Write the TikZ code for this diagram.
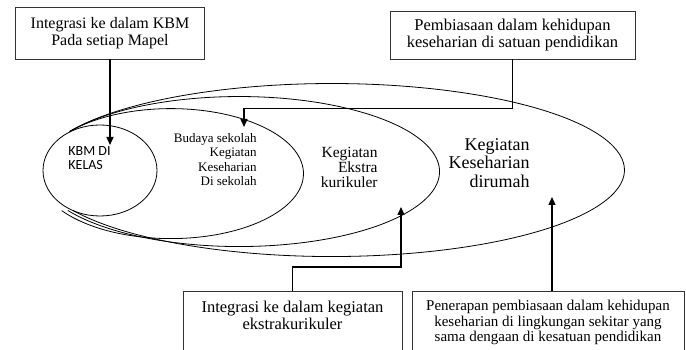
\documentclass[tikz,border=0pt]{standalone}
\usepackage{fontspec}
\setmainfont{Liberation Serif}
\newfontfamily\kalibri{Carlito}
\usetikzlibrary{shapes.geometric,arrows.meta}

\begin{document}
\begin{tikzpicture}[x=1pt, y=1pt, line width=0.8pt,
                    kotak/.style = {draw=black!80, align=center, inner xsep=0pt},
                    teks/.style = {inner sep=0pt},
                    panah/.style = {line width=1.3pt, -{Triangle[length=8pt, width=7pt]}}]
  \useasboundingbox (0,0) rectangle (686,350);
  % lingkaran-lingkaran
  \node [draw, ellipse, minimum width=114pt, minimum height=91pt] (kelas) at (100,179.5){};
  \draw (kelas.128) arc[start angle=139.7, end angle=-145.3, x radius=132.7, y radius=65];
  \draw (kelas.128) arc[start angle=147.8, end angle=-148.7, x radius=200.4, y radius=75];
  \draw (kelas.128) arc[start angle=153.6, end angle=-152.1, x radius=292.7, y radius=86.5];
  % isi
  \node [teks, anchor=north west, align=left, font=\kalibri\fontsize{14}{14}\selectfont] (tekskelas) at (68,204){KBM DI\\KELAS};
  \node [teks, anchor=north east, align=right, font=\fontsize{13}{14.3}\selectfont] (teksbudaya) at (257,217){Budaya sekolah\\Kegiatan\\Keseharian\\Di sekolah};
  \node [teks, anchor=north east, align=right, font=\fontsize{15.5}{15}\selectfont] (teksekstra) at (378,203){Kegiatan\\Ekstra\\kurikuler};
  \node [teks, anchor=north east, align=right, font=\fontsize{18}{18.5}\selectfont] (teksrumah) at (530,212){Kegiatan\\Keseharian\\dirumah};
  % kotak
  \node [kotak, minimum width=189pt, minimum height=52pt, font=\fontsize{16}{16.5}\selectfont] (mapel) at (110,317){Integrasi ke dalam KBM\\Pada setiap Mapel};
  \node [kotak, minimum width=245pt, minimum height=48pt, font=\fontsize{16.5}{16.5}\selectfont] (sekolah) at (512.5,315){Pembiasaan dalam kehidupan\\keseharian di satuan pendidikan};
  \node [kotak, anchor=north, minimum width=219pt, inner ysep=10pt, text depth=70pt, font=\fontsize{16.5}{16.5}\selectfont] (ekstrabox) at (292.5,59){Integrasi ke dalam kegiatan\\ekstrakurikuler};
  \node [kotak, anchor=north, minimum width=272pt, inner ysep=9pt, text depth=70pt, font=\fontsize{15}{15.5}\selectfont] (rumahbox) at (548,59){Penerapan pembiasaan dalam kehidupan\\keseharian di lingkungan sekitar yang\\sama dengaan di kesatuan pendidikan};
  % panah
  \coordinate (kelasmasuk) at (110,205);
  \coordinate (budayamasuk) at (244,223);
  \coordinate (ekstramasuk) at (401,143);
  \coordinate (rumahmasuk) at (552,153);
  \draw [panah] (mapel.south) -- (kelasmasuk);
  \draw [panah] (sekolah.south) -- ++(0,-49) -| (budayamasuk);
  \draw [panah] (ekstrabox.north) -- ++(0,24) -| (ekstramasuk);
  \draw [panah] (rumahbox.north -| rumahmasuk) -- (rumahmasuk);
\end{tikzpicture}
\end{document}
